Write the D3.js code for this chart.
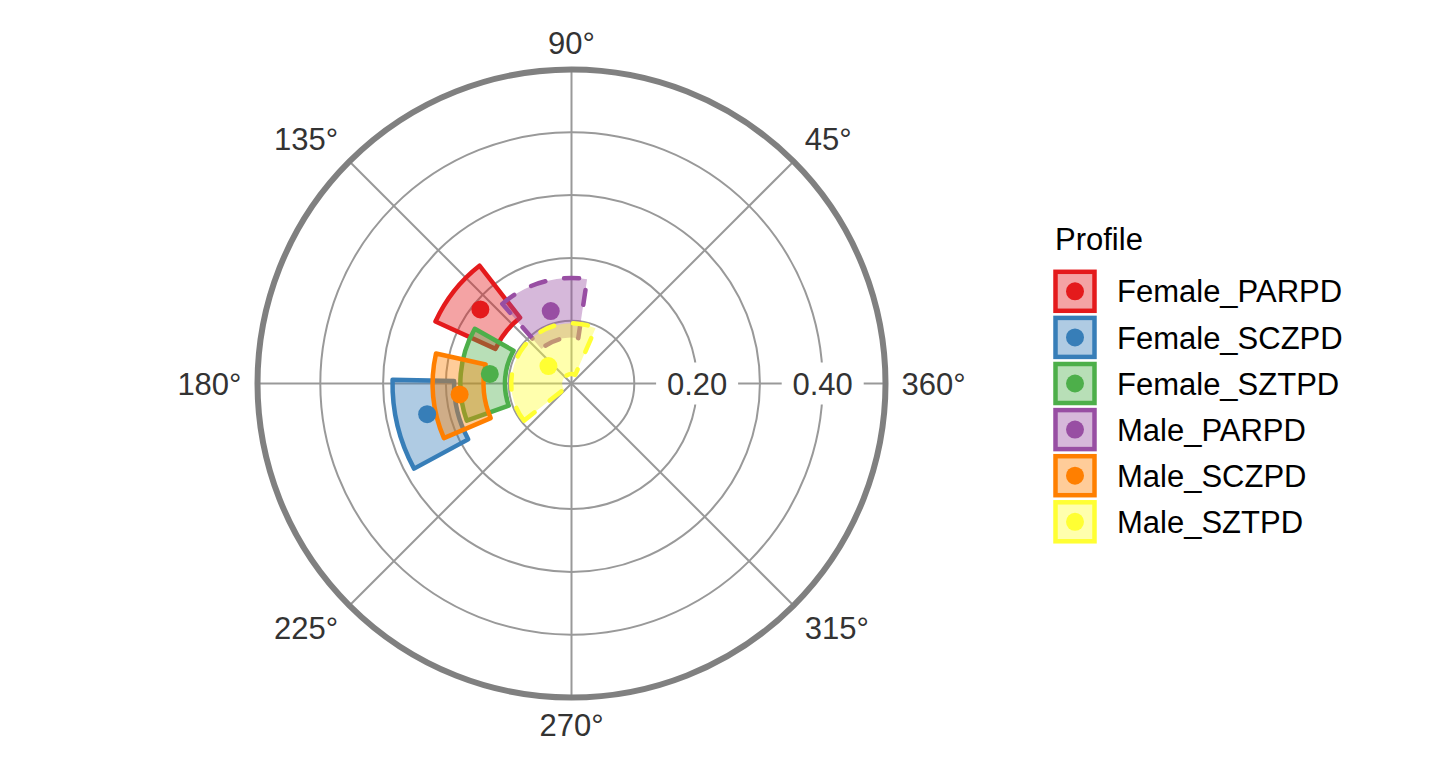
<!DOCTYPE html>
<html>
<head>
<meta charset="utf-8">
<script src="https://cdn.jsdelivr.net/npm/d3@7"></script>
<style>
  html, body { margin: 0; padding: 0; background: #fff; }
  svg { display: block; font-family: "Liberation Sans", Arial, Helvetica, sans-serif; }
</style>
</head>
<body>
<svg id="chart" width="1440" height="768"></svg>
<script>
// ---------------- data ----------------
const profiles   = ["Female_PARPD", "Female_SCZPD", "Female_SZTPD", "Male_PARPD", "Male_SCZPD", "Male_SZTPD"];
const lineTypes  = ["solid", "solid", "solid", "dashed", "solid", "dashed"];
const colors     = ["#E41A1C", "#377EB8", "#4DAF4A", "#984EA3", "#FF7F00", "#FFFF33"];
// displacement estimate and its interval (degrees)
const displacement = [140.9, 192.0, 173.3, 106.0, 185.6, 143.0];
const dispLower    = [128.0, 178.8, 150.5,  81.5, 167.5,  66.5];
const dispUpper    = [155.5, 208.4, 199.5, 131.0, 203.2, 218.0];
// amplitude estimate and its interval
const amplitude    = [0.187, 0.235, 0.131, 0.120, 0.179, 0.046];
const ampLower     = [0.133, 0.187, 0.106, 0.073, 0.140, 0.015];
const ampUpper     = [0.238, 0.285, 0.177, 0.168, 0.221, 0.096];
// axes
const ampGrid      = [0.1, 0.2, 0.3, 0.4];
const ampLabels    = [0.2, 0.4];
const ampMax       = 0.5;
const angleTicks   = [0, 45, 90, 135, 180, 225, 270, 315];
const angleLabels  = ["360°", "45°", "90°", "135°", "180°", "225°", "270°", "315°"];
const legendTitle  = "Profile";

// ---------------- layout ----------------
const svg = d3.select("#chart");
const cx = 571.5, cy = 383.5;
const rScale = d3.scaleLinear().domain([0, ampMax]).range([0, 314]);
const toRad = d => d * Math.PI / 180;
const d3Angle = d => toRad(90 - d);          // d3.arc angle (clockwise from 12 o'clock)
const px = (deg, a) => cx + rScale(a) * Math.cos(toRad(deg));
const py = (deg, a) => cy - rScale(a) * Math.sin(toRad(deg));
const gridCol = "#999999";
const fontSize = 31;
const capH = fontSize * 0.716;
const markStroke = 4.5;

const g = svg.append("g");

// grid circles
g.selectAll("circle.grid").data(ampGrid).join("circle")
  .attr("cx", cx).attr("cy", cy).attr("r", d => rScale(d))
  .attr("fill", "none").attr("stroke", gridCol).attr("stroke-width", 2);

// spokes
g.selectAll("line.spoke").data(angleTicks).join("line")
  .attr("x1", cx).attr("y1", cy)
  .attr("x2", d => px(d, ampMax)).attr("y2", d => py(d, ampMax))
  .attr("stroke", gridCol).attr("stroke-width", 2);

// amplitude labels with white background
const al = g.selectAll("g.amp").data(ampLabels).join("g");
al.append("rect")
  .attr("x", d => px(0, d) - 41).attr("y", cy - 21)
  .attr("width", 82).attr("height", 42).attr("fill", "#fff");
al.append("text")
  .attr("x", d => px(0, d)).attr("y", cy + capH / 2)
  .attr("text-anchor", "middle").attr("font-size", fontSize).attr("fill", "#333333")
  .text(d => d3.format(".2f")(d));

// outer circle
g.append("circle").attr("cx", cx).attr("cy", cy).attr("r", rScale(ampMax))
  .attr("fill", "none").attr("stroke", "#808080").attr("stroke-width", 6);

// wedges
const arc = d3.arc();
const idx = d3.range(profiles.length);
g.selectAll("path.wedge").data(idx).join("path")
  .attr("transform", `translate(${cx},${cy})`)
  .attr("d", i => arc({
    innerRadius: rScale(ampLower[i]),
    outerRadius: rScale(ampUpper[i]),
    startAngle: d3Angle(dispUpper[i]),
    endAngle: d3Angle(dispLower[i])
  }))
  .attr("fill", i => colors[i]).attr("fill-opacity", 0.4)
  .attr("stroke", i => colors[i]).attr("stroke-width", markStroke)
  .attr("stroke-linejoin", "round")
  .attr("stroke-linecap", "round")
  .attr("stroke-dasharray", i => lineTypes[i] === "dashed" ? "15 19" : null);

// points
g.selectAll("circle.pt").data(idx).join("circle")
  .attr("cx", i => px(displacement[i], amplitude[i]))
  .attr("cy", i => py(displacement[i], amplitude[i]))
  .attr("r", 9).attr("fill", i => colors[i]);

// angle labels
const labR = 330;
g.selectAll("text.ang").data(angleTicks).join("text")
  .attr("font-size", fontSize).attr("fill", "#333333")
  .attr("text-anchor", d => {
    const c = Math.cos(toRad(d));
    return c > 0.01 ? "start" : (c < -0.01 ? "end" : "middle");
  })
  .attr("x", d => cx + labR * Math.cos(toRad(d)))
  .attr("y", d => {
    const s = Math.sin(toRad(d));
    const y = cy - labR * s;
    return s > 0.01 ? y : (s < -0.01 ? y + capH : y + capH / 2);
  })
  .text((d, i) => angleLabels[i]);

// legend
const lg = svg.append("g");
lg.append("text").attr("x", 1055).attr("y", 250)
  .attr("font-size", fontSize).attr("fill", "#000").text(legendTitle);
const rows = lg.selectAll("g.row").data(idx).join("g")
  .attr("transform", i => `translate(0, ${291.3 + i * 46.1})`);
rows.append("rect").attr("x", 1055.5).attr("y", -19.5).attr("width", 39).attr("height", 39)
  .attr("fill", "#fff");
rows.append("rect").attr("x", 1055.5).attr("y", -19.5).attr("width", 39).attr("height", 39)
  .attr("fill", i => colors[i]).attr("fill-opacity", 0.4)
  .attr("stroke", i => colors[i]).attr("stroke-width", markStroke);
rows.append("circle").attr("cx", 1075).attr("cy", 0).attr("r", 9)
  .attr("fill", i => colors[i]);
rows.append("text").attr("x", 1117).attr("y", capH / 2)
  .attr("font-size", fontSize).attr("fill", "#000").text(i => profiles[i]);
</script>
</body>
</html>
